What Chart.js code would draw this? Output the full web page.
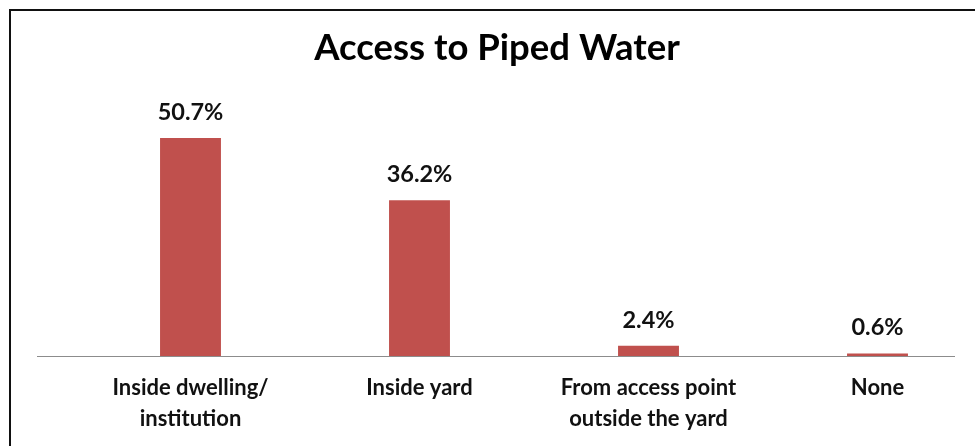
<!DOCTYPE html>
<html>
<head>
<meta charset="utf-8">
<title>Access to Piped Water</title>
<script src="https://cdn.jsdelivr.net/npm/chart.js@4.4.1/dist/chart.umd.min.js"></script>
<style>
    html, body {
        margin: 0;
        padding: 0;
        background: #ffffff;
        overflow: hidden;
    }
    #wrap {
        width: 975px;
        height: 446px;
        overflow: hidden;
    }
    #chartBox {
        position: relative;
        width: 1000px;
        height: 446px;
    }
</style>
</head>
<body>
<div id="wrap">
    <div id="chartBox"><canvas id="waterChart"></canvas></div>
</div>
<script>
// Údaje grafu
const categories = [
    ["Inside dwelling/", "institution"],
    ["Inside yard"],
    ["From access point", "outside the yard"],
    ["None"]
];
const shareValues = [50.7, 36.2, 2.4, 0.6];
const chartTitle = "Access to Piped Water";

const barColor = "#c0504d";
const fontFamily = "Lato, 'Open Sans', sans-serif";

// Rám, nadpis a vodorovná os
const decorations = {
    id: "decorations",
    beforeDatasetsDraw(chart) {
        const ctx = chart.ctx;
        const y = Math.round(chart.scales.y.getPixelForValue(0)) + 0.5;
        ctx.save();
        // rám (len ľavá a horná strana sú vidieť)
        ctx.fillStyle = "#111";
        ctx.fillRect(9, 9, chart.width, 2);
        ctx.fillRect(9, 9, 2, chart.height);
        // os
        ctx.strokeStyle = "#8c8c8c";
        ctx.lineWidth = 1;
        ctx.beginPath();
        ctx.moveTo(37, y);
        ctx.lineTo(955, y);
        ctx.stroke();
        // nadpis
        ctx.fillStyle = "#000";
        ctx.font = "bold 36.5px " + fontFamily;
        ctx.textAlign = "center";
        ctx.textBaseline = "alphabetic";
        ctx.fillText(chartTitle, 497, 60);
        ctx.restore();
    }
};

// Popisky hodnôt nad stĺpcami
const valueLabels = {
    id: "valueLabels",
    afterDatasetsDraw(chart) {
        const ctx = chart.ctx;
        const meta = chart.getDatasetMeta(0);
        ctx.save();
        ctx.font = "bold 23.5px " + fontFamily;
        ctx.fillStyle = "#111";
        ctx.textAlign = "center";
        ctx.textBaseline = "alphabetic";
        meta.data.forEach((bar, i) => {
            ctx.fillText(shareValues[i].toFixed(1) + "%", bar.x, bar.y - 18);
        });
        ctx.restore();
    }
};

const ctx = document.getElementById("waterChart").getContext("2d");
new Chart(ctx, {
    type: "bar",
    data: {
        labels: categories,
        datasets: [{
            data: shareValues,
            backgroundColor: barColor,
            borderWidth: 0,
            categoryPercentage: 1,
            barPercentage: 0.266
        }]
    },
    options: {
        responsive: true,
        maintainAspectRatio: false,
        animation: false,
        events: [],
        layout: {
            // stĺpce sú posunuté doprava, pravý okraj presahuje viditeľnú časť
            padding: { left: 76, right: 8, top: 98, bottom: 4 }
        },
        plugins: {
            legend: { display: false },
            tooltip: { enabled: false },
            title: { display: false }
        },
        scales: {
            x: {
                grid: { display: false },
                border: { display: false },
                ticks: {
                    color: "#111",
                    padding: 8,
                    maxRotation: 0,
                    autoSkip: false,
                    font: { family: fontFamily, size: 22, weight: "bold", lineHeight: 1.41 }
                }
            },
            y: {
                display: false,
                min: 0,
                max: 60
            }
        }
    },
    plugins: [decorations, valueLabels]
});
</script>
</body>
</html>
